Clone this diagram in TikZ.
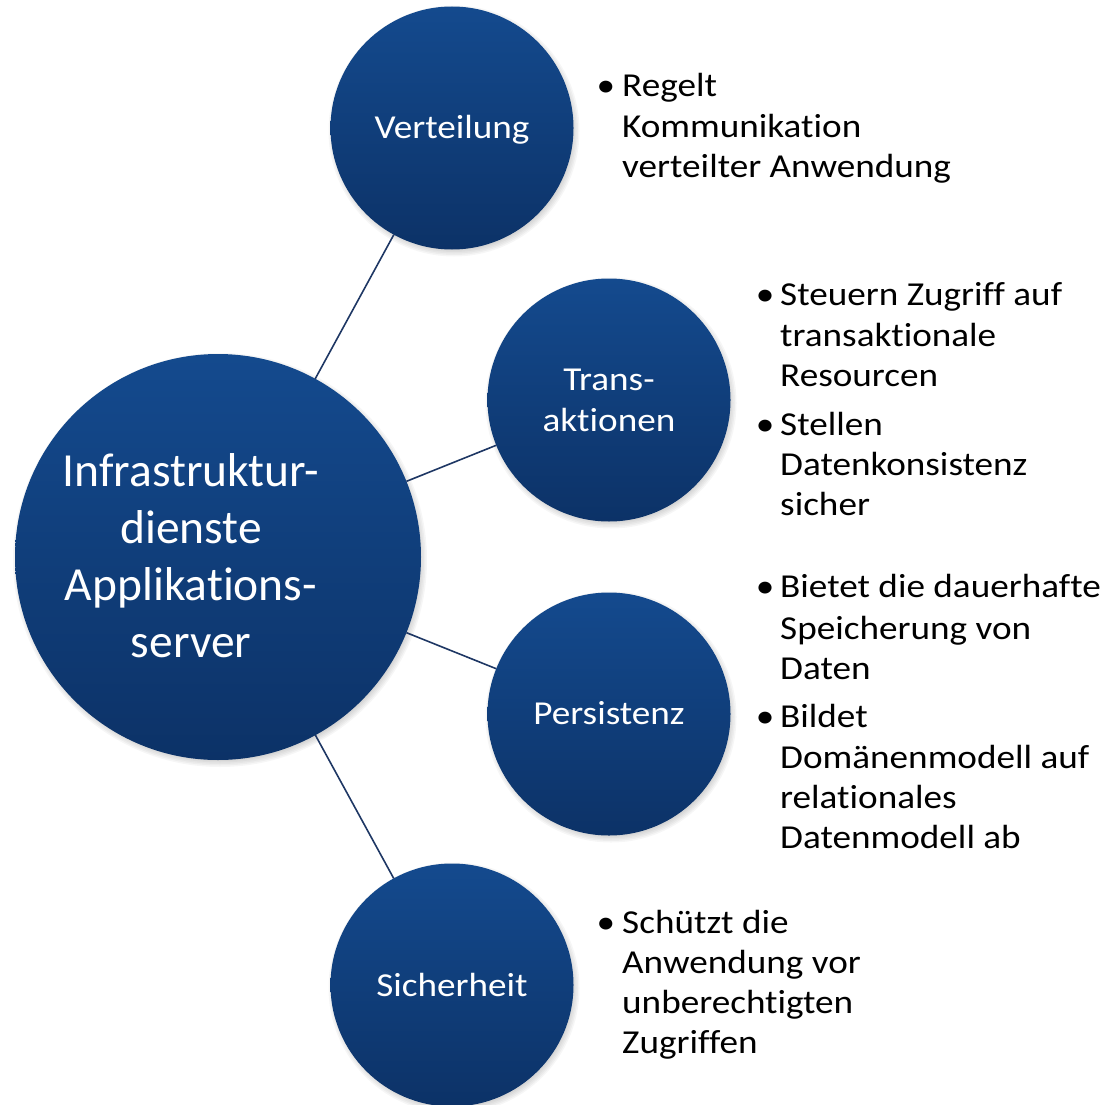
\documentclass[tikz,border=0pt]{standalone}
\usepackage{fontspec}
\setmainfont{Carlito}[RawFeature={-liga}]
\newfontfamily\widefont{Carlito}[FakeStretch=1.11,RawFeature={-liga}]
\begin{document}
\begin{tikzpicture}[x=1pt,y=-1pt,
  bubble/.style={circle,inner sep=0pt,outer sep=0pt,top color=bubtop,bottom color=bubbot,shading angle=0},
  small/.style={bubble,minimum size=243pt},
  big/.style={bubble,minimum size=406pt},
  ctext/.style={anchor=base,text=white,inner sep=0pt,font=\widefont\fontsize{33.5}{40}\selectfont},
  btext/.style={anchor=base,text=white,inner sep=0pt,font=\fontsize{47.5}{57}\selectfont},
  itext/.style={anchor=base west,text=black,inner sep=0pt,font=\widefont\fontsize{33.5}{40}\selectfont},
  dot/.style={anchor=base,text=black,inner sep=0pt,font=\widefont\fontsize{33.5}{40}\selectfont},
  link/.style={draw=linkc,line width=1.6pt}]
\definecolor{bubtop}{RGB}{20,74,142}
\definecolor{bubbot}{RGB}{12,50,103}
\definecolor{linkc}{RGB}{30,55,100}
\useasboundingbox (0,0) rectangle (1104,1105);
\clip (0,0) rectangle (1104,1105);
% soft shadows
\foreach \cx/\cy/\r in {218/557/203, 452/128/121.5, 609/400/121.5, 609/714/121.5, 452/985/121.5}{
  \foreach \d in {0,1.5,...,6}{
    \fill[black,opacity=0.035] (\cx+2,\cy+3) circle ({\r-2+\d});
  }
}
% circles
\node[big] (main) at (218,557) {};
\node[small] (vert) at (452,128) {};
\node[small] (trans) at (609,400) {};
\node[small] (pers) at (609,714) {};
\node[small] (sich) at (452,985) {};
% connectors
\draw[link] (main) -- (vert);
\draw[link] (main) -- (trans);
\draw[link] (main) -- (pers);
\draw[link] (main) -- (sich);
% circle labels
\node[btext] (m1) at (191,486) {Infrastruktur-};
\node[btext] (m2) at (191,543) {dienste};
\node[btext] (m3) at (191,600) {Applikations-};
\node[btext] (m4) at (191,657) {server};
\node[ctext] (v1) at (452,139) {Verteilung};
\node[ctext] (t1) at (609,390) {Trans-};
\node[ctext] (t2) at (609,431.5) {aktionen};
\node[ctext] (p1) at (609,724.5) {Persistenz};
\node[ctext] (s1) at (452,996) {Sicherheit};
% Verteilung text
\node[dot] (vb1) at (606,97) {•};
\node[itext] (vl1) at (622,97) {Regelt};
\node[itext] (vl2) at (622,137) {Kommunikation};
\node[itext] (vl3) at (622,177) {verteilter Anwendung};
% Transaktionen text
\node[dot] (tb1) at (765,305) {•};
\node[itext] (tl1) at (780,305) {Steuern Zugriff auf};
\node[itext] (tl2) at (780,346) {transaktionale};
\node[itext] (tl3) at (780,386.5) {Resourcen};
\node[dot] (tb2) at (765,435) {•};
\node[itext] (tl4) at (780,435) {Stellen};
\node[itext] (tl5) at (780,475) {Datenkonsistenz};
\node[itext] (tl6) at (780,515) {sicher};
% Persistenz text
\node[dot] (pb1) at (765,597) {•};
\node[itext] (pl1) at (780,597) {Bietet die dauerhafte};
\node[itext] (pl2) at (780,639) {Speicherung von};
\node[itext] (pl3) at (780,679) {Daten};
\node[dot] (pb2) at (765,727) {•};
\node[itext] (pl4) at (780,727) {Bildet};
\node[itext] (pl5) at (780,768) {Domänenmodell auf};
\node[itext] (pl6) at (780,808) {relationales};
\node[itext] (pl7) at (780,848.5) {Datenmodell ab};
% Sicherheit text
\node[dot] (sb1) at (606,933.5) {•};
\node[itext] (sl1) at (622,933.5) {Schützt die};
\node[itext] (sl2) at (622,973.5) {Anwendung vor};
\node[itext] (sl3) at (622,1013.5) {unberechtigten};
\node[itext] (sl4) at (622,1053.5) {Zugriffen};
\end{tikzpicture}
\end{document}
